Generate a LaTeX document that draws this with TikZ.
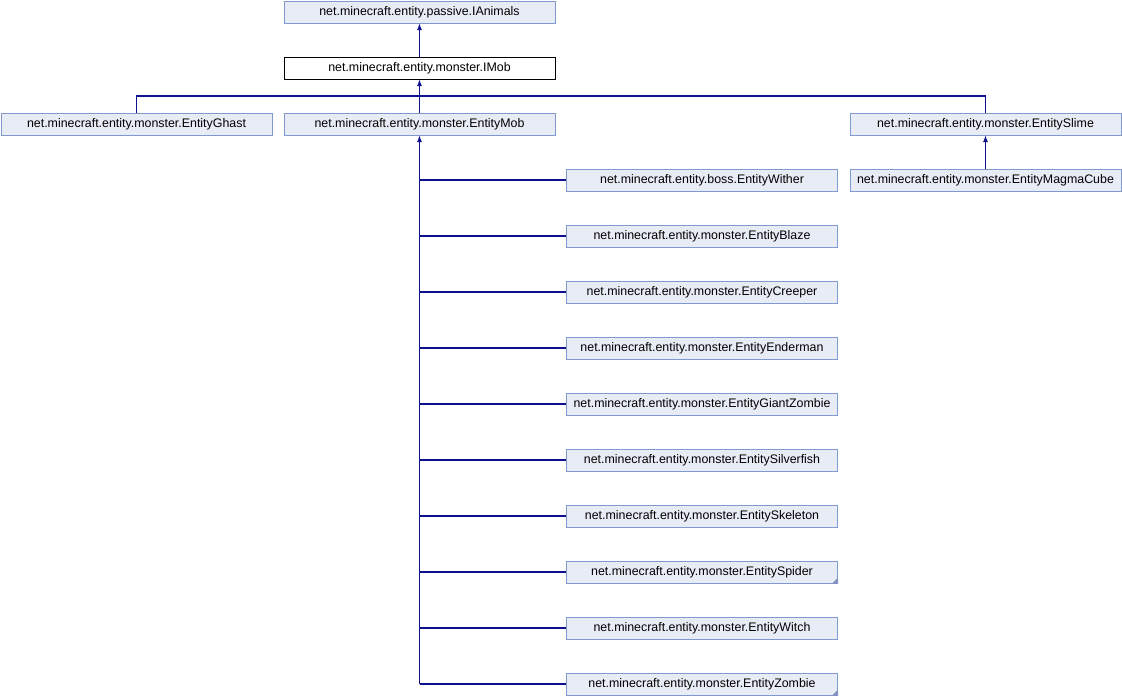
\documentclass[tikz,border=0pt]{standalone}
\usepackage{fontspec}
\setmainfont{Liberation Sans}
\usetikzlibrary{arrows.meta}
\definecolor{nodefill}{HTML}{E8ECF6}
\definecolor{nodeline}{HTML}{7F98CE}
\definecolor{edgecol}{HTML}{10108C}
\begin{document}
\begin{tikzpicture}[x=0.75pt,y=-0.75pt,
  cls/.style={draw=nodeline,fill=nodefill,line width=0.75pt,minimum width=271*0.75pt,minimum height=22*0.75pt,inner sep=0pt,font=\fontsize{9.3pt}{11pt}\selectfont},
  cur/.style={cls,draw=black,fill=white},
  edge/.style={draw=edgecol,line width=0.85pt},
  arr/.style={edge,-{Latex[length=5pt,width=4pt]}},
  trunc/.style={fill=nodeline!80!gray}
]
\useasboundingbox (0,0) rectangle (1122,696);
\node[cls] (animals) at (419.5,12) {net.minecraft.entity.passive.IAnimals};
\node[cur] (imob) at (419.5,68) {net.minecraft.entity.monster.IMob};
\node[cls] (ghast) at (136.5,124) {net.minecraft.entity.monster.EntityGhast};
\node[cls] (mob) at (419.5,124) {net.minecraft.entity.monster.EntityMob};
\node[cls] (slime) at (985.5,124) {net.minecraft.entity.monster.EntitySlime};
\node[cls] (magma) at (985.5,180) {net.minecraft.entity.monster.EntityMagmaCube};
\node[cls] (wither) at (702,180) {net.minecraft.entity.boss.EntityWither};
\node[cls] (blaze) at (702,236) {net.minecraft.entity.monster.EntityBlaze};
\node[cls] (creeper) at (702,292) {net.minecraft.entity.monster.EntityCreeper};
\node[cls] (enderman) at (702,348) {net.minecraft.entity.monster.EntityEnderman};
\node[cls] (giant) at (702,404) {net.minecraft.entity.monster.EntityGiantZombie};
\node[cls] (silverfish) at (702,460) {net.minecraft.entity.monster.EntitySilverfish};
\node[cls] (skeleton) at (702,516) {net.minecraft.entity.monster.EntitySkeleton};
\node[cls] (spider) at (702,572) {net.minecraft.entity.monster.EntitySpider};
\node[cls] (witch) at (702,628) {net.minecraft.entity.monster.EntityWitch};
\node[cls] (zombie) at (702,684) {net.minecraft.entity.monster.EntityZombie};
% truncation marks
\fill[trunc] (spider.south east) -- ++(-6,0) -- ++(6,-6) -- cycle;
\fill[trunc] (zombie.south east) -- ++(-6,0) -- ++(6,-6) -- cycle;
% edges
\draw[arr] (imob.north) -- (animals.south);
\coordinate (bus) at (419.5,96);
\draw[arr] (bus) -- (imob.south);
\draw[edge] (ghast.north) |- (bus) -| (slime.north);
\draw[edge] (mob.north) -- (bus);
\draw[arr] (magma.north) -- (slime.south);
\coordinate (mbot) at (419.5,684);
\draw[arr] (mbot) -- (mob.south);
\foreach \c in {wither,blaze,creeper,enderman,giant,silverfish,skeleton,spider,witch,zombie}{
  \draw[edge] (\c.west) -- (\c.west -| mob.south);
}
\end{tikzpicture}
\end{document}
